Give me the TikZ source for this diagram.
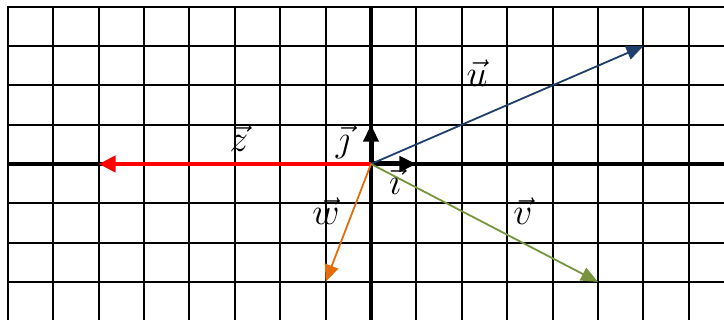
\documentclass[tikz,border=0pt]{standalone}
\usepackage{graphicx}
\usetikzlibrary{arrows.meta}
\definecolor{ucol}{HTML}{1F3E6B}
\definecolor{vcol}{HTML}{77933C}
\definecolor{wcol}{HTML}{E46C0A}
\definecolor{zcol}{HTML}{FF0000}
\newcommand{\biglbl}[1]{\scalebox{2.6}{\Large$#1$}}
\begin{document}
\begin{tikzpicture}[x=1pt,y=-1pt,
  gridline/.style={line width=1.9pt,black},
  vecarrow/.style={line width=1.8pt,-{Triangle[length=17pt,width=14pt]}},
  basearrow/.style={line width=5pt,black,-{Triangle[length=17pt,width=15pt]}},
  lbl/.style={inner sep=0pt}]
\useasboundingbox (0,0) rectangle (724,320);
\begin{scope}
\clip (0,0) rectangle (724,320);
\foreach \k in {-8,...,7} \draw[gridline] ({371+45.4*\k},5.9) -- ({371+45.4*\k},320);
\foreach \k in {-4,...,3} \draw[gridline] (6.9,{164+39.3*\k}) -- (724,{164+39.3*\k});
\draw[line width=4pt] (371,5.9) -- (371,320);
\draw[line width=3.5pt] (6.9,164) -- (724,164);
\end{scope}
\coordinate (O) at (371,164);
\coordinate (U) at ({371+45.4*6},{164-39.3*3});
\coordinate (V) at ({371+45.4*5},{164+39.3*3});
\coordinate (W) at ({371-45.4*1},{164+39.3*3});
\coordinate (Z) at ({371-45.4*6},164);
\coordinate (I) at ({371+45.4*1},164);
\coordinate (J) at (371,{164-39.3*1});
\draw[basearrow] (O) -- (I);
\draw[basearrow] (O) -- (J);
\draw[line width=4.5pt,zcol,-{Triangle[length=17pt,width=16pt]}] (O) -- (Z);
\draw[vecarrow,ucol] (O) -- (U);
\draw[vecarrow,vcol] (O) -- (V);
\draw[vecarrow,wcol] (O) -- (W);
\node[lbl] (lu) at (477,73) {\biglbl{\vec{u}}};
\node[lbl] (lz) at (239,138) {\biglbl{\vec{z}}};
\node[lbl] (lj) at (343,142) {\biglbl{\vec{\jmath}}};
\node[lbl] (li) at (395,181) {\biglbl{\vec{\imath}}};
\node[lbl] (lw) at (326,211) {\biglbl{\vec{w}}};
\node[lbl] (lv) at (523,211) {\biglbl{\vec{v}}};
\end{tikzpicture}
\end{document}
